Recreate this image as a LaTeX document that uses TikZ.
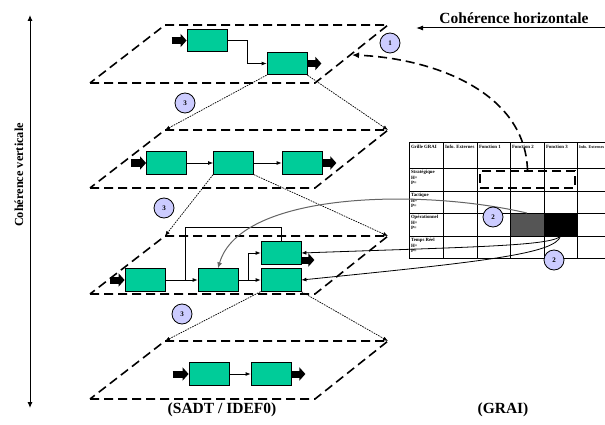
\documentclass[tikz,border=0pt]{standalone}
\usepackage{fontspec}
\setmainfont{Liberation Serif}
\usetikzlibrary{arrows.meta,positioning}
\definecolor{boxgreen}{RGB}{0,204,153}
\definecolor{lav}{RGB}{204,204,255}
\definecolor{curvegray}{RGB}{100,100,100}

\begin{document}
\begin{tikzpicture}[x=1pt,y=-1pt,
  proc/.style={rectangle,draw=black,fill=boxgreen,minimum width=40pt,minimum height=22.5pt,inner sep=0pt,line width=0.8pt},
  plane/.style={line width=1.6pt,dash pattern=on 9pt off 5pt},
  flow/.style={line width=0.8pt,-{Latex[length=5pt,width=4pt]}},
  fat/.style={line width=7pt,-{Triangle[length=6pt,width=13pt]}},
  hop/.style={dash pattern=on 1.6pt off 1pt,line width=0.7pt,-{Latex[length=5pt,width=4pt]}},
  num/.style={circle,draw=black,fill=lav,minimum size=20pt,inner sep=0pt,line width=0.8pt,font=\fontsize{7}{7}\selectfont\bfseries},
  cell/.style={rectangle,minimum width=33.5pt,minimum height=22.5pt,inner sep=0pt},
  gridline/.style={line width=1pt},
  gtext/.style={font=\fontsize{4.8}{5.8}\selectfont\bfseries,inner sep=0.8pt,align=left,anchor=north west},
  big/.style={font=\fontsize{15.5}{17}\selectfont\bfseries},
  tip/.style={-{Latex[length=7pt,width=6pt]}}]
\useasboundingbox (0,0) rectangle (605,425);

% planes
\foreach \t/\i in {25/1,130/2,236/3,341/4}{
  \draw[plane] (90,\t+58) -- (315,\t+58) -- (388,\t) -- (165,\t) -- cycle;
  \coordinate (p\i tl) at (165,\t);
  \coordinate (p\i tr) at (388,\t);
}
\coordinate (p1r) at (352,55);

% level 1
\node at (207,40.5)[proc](b11){};
\node at (287,63.5)[proc](b12){};
\draw[fat] ([xshift=-15pt]b11.west) -- (b11.west);
\draw[flow] (b11.east) -- ++(20,0) |- (b12.west);
\draw[fat] (b12.east) -- ([xshift=14pt]b12.east);

% level 2
\node at (166.5,163)[proc](b21){};
\node at (233.5,163)[proc](b22){};
\node at (302,163)[proc](b23){};
\draw[fat] ([xshift=-15pt]b21.west) -- (b21.west);
\draw[flow] (b21) -- (b22);
\draw[flow] (b22) -- (b23);
\draw[fat] (b23.east) -- ([xshift=14pt]b23.east);

% level 3
\node at (145,280)[proc](b31){};
\node at (218,280)[proc](b32){};
\node at (281,253)[proc](b33){};
\node at (281,280)[proc](b34){};
\coordinate (j3) at (185,280);
\draw[fat] ([xshift=-15pt]b31.west) -- (b31.west);
\draw[flow] (b31) -- (b32);
\draw[flow] (b32) -- (b34);
\draw[flow] ([xshift=10pt]b32.east) |- (b33.west);
\draw[line width=1pt] (b33.north) -- ++(0,-14) -| (j3);
\draw[fat] ([yshift=-7pt]b33.east) -- ([xshift=13pt,yshift=-7pt]b33.east);

% level 4
\node at (209,374)[proc](b41){};
\node at (271,374)[proc](b42){};
\draw[fat] ([xshift=-16pt]b41.west) -- (b41.west);
\draw[flow] (b41) -- (b42);
\draw[fat] (b42.east) -- ([xshift=14pt]b42.east);

% vertical links
\draw[hop] (b12.south west) -- (p2tl);
\draw[hop] (b12.south east) -- (p2tr);
\draw[hop] (b22.south west) -- (p3tl);
\draw[hop] (b22.south east) -- (p3tr);
\draw[hop] (b34.south west) -- (p4tl);
\draw[hop] (b34.south east) -- (p4tr);
\node at (185,103)[num](n3a){3};
\node at (164,208)[num](n3b){3};
\node at (182,314)[num](n3c){3};

% GRAI grid
\node at (527,224.5)[cell,fill=curvegray!85!black](gry){};
\node at (560.5,224.5)[cell,fill=black](blk){};
\foreach \x in {409,443,477,510,544,577}
  \draw[gridline] (\x,143) -- (\x,258);
\foreach \y in {143,168,191,213,236,258}
  \draw[gridline] (409,\y) -- (605,\y);
\foreach \x/\t/\k in {409/Grille GRAI/1,443/Info. Externes/2,477/Fonction 1/3,510/Fonction 2/4,544/Fonction 3/5}
  \node at (\x+1,144.5)[gtext](hd\k){\t};
\node at (578,144.5)[gtext,font=\fontsize{4.1}{5}\selectfont\bfseries](hd6){Info. Externes};
\node at (410,169)[gtext](r1){Stratégique\\H=\\P=};
\node at (410,192)[gtext](r2){Tactique\\H=\\P=};
\node at (410,214)[gtext](r3){Opérationnel\\H=\\P=};
\node at (410,237)[gtext](r4){Temps Réel\\H=\\P=};
\node at (527.5,179.5)[rectangle,draw,plane,minimum width=95pt,minimum height=17pt,inner sep=0pt](sel){};

% links between the two views
\draw[plane,tip] (sel.north) .. controls (525,90) and (430,58) .. (p1r);
\draw[line width=1pt,draw=curvegray,-{Latex[length=6pt,width=5pt]}] (gry.north) .. controls (420,188) and (240,192) .. (b32.north);
\draw[flow] (blk.south) .. controls (553,246) and (470,247) .. (b33.east);
\draw[flow] (blk.south) .. controls (556,254) and (480,262) .. (b34.east);
\node at (390,43)[num](n1){1};
\node at (493,217)[num](n2a){2};
\node at (554,260)[num](n2b){2};

% titles
\coordinate (vtop) at (30,15);
\coordinate (vbot) at (30,408);
\draw[line width=1pt,{Latex[length=6pt,width=5pt]}-{Latex[length=6pt,width=5pt]}] (vtop) -- (vbot);
\node at (19,175)[rotate=90,font=\fontsize{12.3}{14}\selectfont\bfseries](vlab){Cohérence verticale};
\node at (514,18.5)[big](hlab){Cohérence horizontale};
\coordinate (hr) at (605,28);
\coordinate (hl) at (416,28);
\draw[line width=1pt,-{Latex[length=7pt,width=5pt]}] (hr) -- (hl);
\node at (222,410)[big](sadt){(SADT / IDEF0)};
\node at (503,410)[big](grai){(GRAI)};
\end{tikzpicture}
\end{document}
